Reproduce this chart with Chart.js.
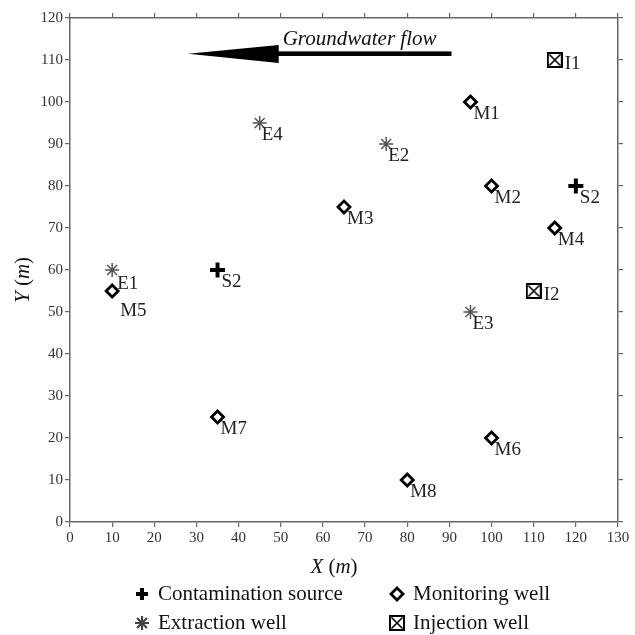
<!DOCTYPE html>
<html lang="en">
<head>
  <meta charset="UTF-8">
  <title>Well layout</title>
  <script src="https://cdn.jsdelivr.net/npm/chart.js"></script>
  <style>
    html, body { margin: 0; padding: 0; background: #fff; }
    #wrap { width: 635px; height: 635px; }
  </style>
</head>
<body>
  <div id="wrap"><canvas id="chartWells"></canvas></div>

  <script>
    // well positions (m)
    const sourceNames = ['S2', 'S2'];
    const sourceX = [35, 120];
    const sourceY = [60, 80];

    const extractionNames = ['E1', 'E2', 'E3', 'E4'];
    const extractionX = [10, 75, 95, 45];
    const extractionY = [60, 90, 50, 95];

    const monitoringNames = ['M1', 'M2', 'M3', 'M4', 'M5', 'M6', 'M7', 'M8'];
    const monitoringX = [95, 100, 65, 115, 10, 100, 35, 80];
    const monitoringY = [100, 80, 75, 70, 55, 20, 25, 10];

    const injectionNames = ['I1', 'I2'];
    const injectionX = [115, 110];
    const injectionY = [110, 55];

    const xRange = [0, 130];
    const yRange = [0, 120];
    const tickStep = 10;

    // flow arrow, in data units
    const flowTailX = 90.5;
    const flowHeadBaseX = 49.5;
    const flowTipX = 28;
    const flowY = 111.5;
    const flowText = 'Groundwater flow';

    // labels that sit a bit further off their marker
    const labelNudge = { M5: [8, 20], E1: [5, 14] };

    const serif = '"Liberation Serif", "Times New Roman", serif';

    // boxed X marker for injection wells
    const boxMark = document.createElement('canvas');
    boxMark.width = 16; boxMark.height = 16;
    (() => {
      const c = boxMark.getContext('2d');
      c.strokeStyle = '#000';
      c.lineWidth = 2;
      c.strokeRect(1, 1, 14, 14);
      c.lineWidth = 1.6;
      c.beginPath();
      c.moveTo(2.5, 2.5); c.lineTo(13.5, 13.5);
      c.moveTo(13.5, 2.5); c.lineTo(2.5, 13.5);
      c.stroke();
    })();

    const toPoints = (xs, ys) => xs.map((x, i) => ({ x: x, y: ys[i] }));

    const datasets = [
      {
        label: 'Contamination source', names: sourceNames, labelOffset: [4, 12],
        data: toPoints(sourceX, sourceY),
        pointStyle: 'cross', pointRadius: 7.5, pointBorderWidth: 4,
        borderColor: '#000', backgroundColor: '#000'
      },
      {
        label: 'Extraction well', names: extractionNames, labelOffset: [2, 12],
        data: toPoints(extractionX, extractionY),
        pointStyle: 'star', pointRadius: 7, pointBorderWidth: 1.5,
        borderColor: '#555', backgroundColor: '#fff'
      },
      {
        label: 'Monitoring well', names: monitoringNames, labelOffset: [3, 12],
        data: toPoints(monitoringX, monitoringY),
        pointStyle: 'rectRot', pointRadius: 6, pointBorderWidth: 2.8,
        borderColor: '#000', backgroundColor: '#fff'
      },
      {
        label: 'Injection well', names: injectionNames, labelOffset: [10, 4],
        data: toPoints(injectionX, injectionY),
        pointStyle: boxMark, pointRadius: 8, pointBorderWidth: 1,
        borderColor: '#000', backgroundColor: '#fff'
      }
    ];

    const axisOpts = (pos, range, showLabels, size) => ({
      type: 'linear', position: pos, min: range[0], max: range[1],
      ticks: {
        stepSize: tickStep, display: showLabels, color: '#333', padding: 2,
        maxRotation: 0, autoSkip: false, font: { family: serif, size: 15 }
      },
      grid: { drawOnChartArea: false, drawTicks: true, tickLength: 5, color: '#666', lineWidth: 1.2 },
      border: { color: '#666', width: 1.5 },
      afterFit: s => { if (s.isHorizontal()) s.height = size; else s.width = size; }
    });

    // text made of upright and italic pieces
    const drawMixed = (ctx, parts, size, cx, cy) => {
      const widths = parts.map(p => {
        ctx.font = (p[1] ? 'italic ' : '') + size + 'px ' + serif;
        return ctx.measureText(p[0]).width;
      });
      let x = cx - widths.reduce((a, b) => a + b, 0) / 2;
      parts.forEach((p, i) => {
        ctx.font = (p[1] ? 'italic ' : '') + size + 'px ' + serif;
        ctx.fillText(p[0], x, cy);
        x += widths[i];
      });
    };

    const extras = {
      id: 'extras',
      afterDraw(chart) {
        const ctx = chart.ctx;
        const xs = chart.scales.x, ys = chart.scales.y;
        const area = chart.chartArea;
        ctx.save();

        // groundwater flow arrow
        const tail = xs.getPixelForValue(flowTailX);
        const base = xs.getPixelForValue(flowHeadBaseX);
        const tip = xs.getPixelForValue(flowTipX);
        const ay = ys.getPixelForValue(flowY);
        ctx.fillStyle = '#000';
        ctx.fillRect(base - 1, ay - 2.3, tail - base + 1, 4.6);
        ctx.beginPath();
        ctx.moveTo(tip, ay);
        ctx.lineTo(base, ay - 8.8);
        ctx.lineTo(base, ay + 9.2);
        ctx.closePath();
        ctx.fill();
        ctx.fillStyle = '#111';
        ctx.font = 'italic 21px ' + serif;
        ctx.textAlign = 'left';
        ctx.textBaseline = 'alphabetic';
        ctx.fillText(flowText, base + 4, ay - 8.5);

        // well names
        ctx.font = '19px ' + serif;
        ctx.fillStyle = '#222';
        ctx.textBaseline = 'middle';
        chart.data.datasets.forEach((ds, di) => {
          chart.getDatasetMeta(di).data.forEach((pt, i) => {
            const name = ds.names[i];
            const off = labelNudge[name] || ds.labelOffset;
            ctx.fillText(name, pt.x + off[0], pt.y + off[1]);
          });
        });

        // axis titles
        ctx.fillStyle = '#111';
        ctx.textAlign = 'left';
        drawMixed(ctx, [['X', true], [' (', false], ['m', true], [')', false]], 21,
          (area.left + area.right) / 2 - 10, 567);
        ctx.save();
        ctx.translate(23, (area.top + area.bottom) / 2 + 10);
        ctx.rotate(-Math.PI / 2);
        drawMixed(ctx, [['Y', true], [' (', false], ['m', true], [')', false]], 21, 0, 0);
        ctx.restore();

        // legend, two columns
        const colMark = [142, 397];
        const rowY = [594, 623];
        chart.data.datasets.forEach((ds, i) => {
          const col = Math.floor(i / 2), row = i % 2;
          ctx.save();
          ctx.strokeStyle = ds.pointStyle === 'star' ? '#444' : ds.borderColor;
          ctx.fillStyle = ds.backgroundColor;
          ctx.lineWidth = ds.pointStyle === 'star' ? 2.2 : ds.pointBorderWidth;
          Chart.helpers.drawPoint(ctx, {
            pointStyle: ds.pointStyle,
            radius: ds.pointStyle === 'cross' ? 6 : ds.pointRadius,
            rotation: 0,
            borderWidth: ctx.lineWidth
          }, colMark[col], rowY[row]);
          ctx.restore();
          ctx.fillStyle = '#111';
          ctx.font = '21px ' + serif;
          ctx.textBaseline = 'middle';
          ctx.fillText(ds.label, colMark[col] + 16, rowY[row]);
        });

        ctx.restore();
      }
    };

    new Chart(document.getElementById('chartWells'), {
      type: 'scatter',
      data: { datasets: datasets },
      options: {
        responsive: true,
        maintainAspectRatio: false,
        animation: false,
        events: [],
        layout: { padding: 0 },
        plugins: { legend: { display: false }, tooltip: { enabled: false } },
        scales: {
          x: axisOpts('bottom', xRange, true, 113),
          x2: axisOpts('top', xRange, false, 18),
          y: axisOpts('left', yRange, true, 70),
          y2: axisOpts('right', yRange, false, 17)
        }
      },
      plugins: [extras]
    });
  </script>
</body>
</html>
